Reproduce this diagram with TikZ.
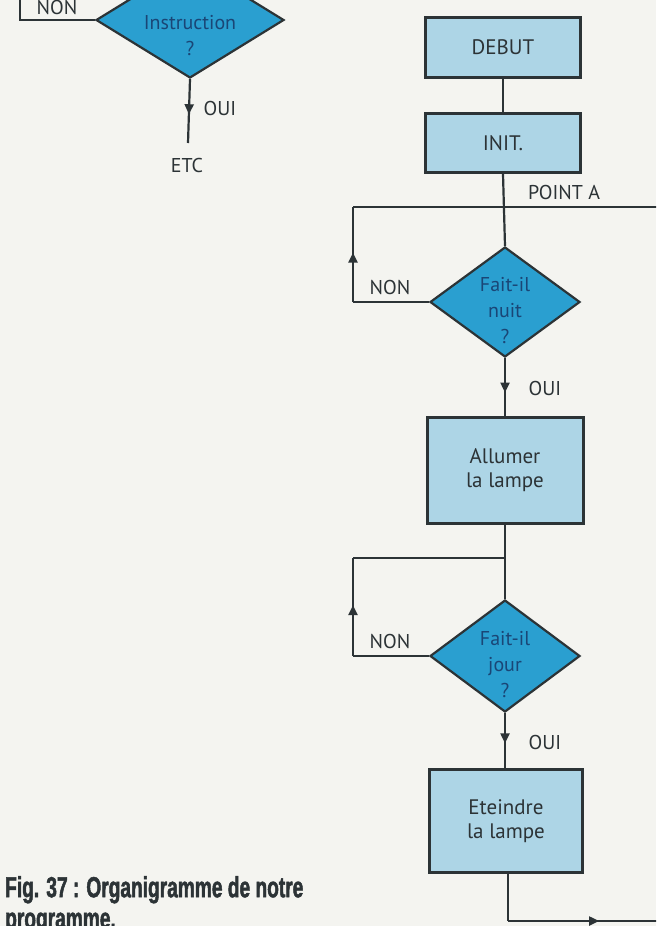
\documentclass[tikz,border=0pt]{standalone}
\usepackage{fontspec}
\usetikzlibrary{shapes.geometric,arrows.meta,decorations.markings}
\newfontfamily\diafont{PT Sans}
\newfontfamily\capfont[FakeStretch=0.66,FakeBold=1.6]{Liberation Sans}
\definecolor{paper}{HTML}{F4F4F0}
\definecolor{boxfill}{HTML}{ADD5E6}
\definecolor{diafill}{HTML}{2A9FD0}
\definecolor{diatext}{HTML}{1A4676}
\definecolor{ink}{HTML}{2C3336}
\tikzset{
  stepbox/.style={draw=ink, line width=3pt, fill=boxfill, rectangle, inner sep=0pt,
    text=ink, align=center, font=\diafont\fontsize{21}{24}\selectfont},
  decision/.style={draw=ink, line width=2.2pt, fill=diafill, diamond, inner sep=0pt},
  dtext/.style={text=diatext, align=center, font=\diafont\fontsize{20}{26}\selectfont},
  lbl/.style={text=ink, font=\diafont\fontsize{20}{24}\selectfont, inner sep=0pt},
  conn/.style={draw=ink, line width=2.2pt},
  arrowmid/.style={postaction={decorate}, decoration={markings,
    mark=at position #1 with {\arrow{Triangle[length=10pt,width=9pt]}}}},
  arrowmid/.default=0.5
}
\begin{document}
\begin{tikzpicture}[x=1pt,y=-1pt]
\useasboundingbox (0,0) rectangle (656,926);
\clip (0,0) rectangle (656,926);
\fill[paper] (0,0) rectangle (656,926);

% ---- top-left fragment ----
\node[decision, minimum width=188pt, minimum height=116pt] (dtop) at (190,20) {};
\node[dtext] at (190,36) {Instruction\\?};
\coordinate (tl1) at (20,20);
\coordinate (tl2) at (20,-10);
\draw[conn] (dtop.west) -- (tl1) -- (tl2);
\node[lbl] (non0) at (57,7) {NON};
\node[lbl] (etc) at (187,165) {ETC};
\coordinate (etctop) at (188,143);
\draw[conn, arrowmid=0.55] (dtop.south) -- (etctop);
\node[lbl] (oui0) at (220,108) {OUI};

% ---- right column ----
\node[stepbox, minimum width=155pt, minimum height=60pt] (debut) at (503,47) {DEBUT};
\node[stepbox, minimum width=155pt, minimum height=59pt] (init) at (503,143) {INIT.};
\draw[conn] (debut.south) -- (init.north);

\coordinate (pA) at (505,207);
\coordinate (rA) at (665,207);
\node[lbl] (pointa) at (564,192) {POINT A};

\node[decision, minimum width=150pt, minimum height=110pt] (d1) at (505,302) {};
\node[dtext] at (505,311) {Fait-il\\nuit\\?};
\draw[conn] (init.south) -- (d1.north);
\coordinate (c1a) at (353,302);
\coordinate (c1b) at (353,207);
\draw[conn] (d1.west) -- (c1a);
\draw[conn, arrowmid=0.52] (c1a) -- (c1b);
\draw[conn] (c1b) -- (pA) -- (rA);
\node[lbl] (non1) at (390,287) {NON};

\node[stepbox, minimum width=156pt, minimum height=106pt] (allumer) at (505,470) {Allumer\\la lampe};
\draw[conn, arrowmid=0.6] (d1.south) -- (allumer.north);
\node[lbl] (oui1) at (545,388) {OUI};

\coordinate (j2) at (505,558);
\node[decision, minimum width=150pt, minimum height=112pt] (d2) at (505,656) {};
\node[dtext] at (505,665) {Fait-il\\jour\\?};
\draw[conn] (allumer.south) -- (j2) -- (d2.north);
\coordinate (c2a) at (353,656);
\coordinate (c2b) at (353,558);
\draw[conn] (d2.west) -- (c2a);
\draw[conn, arrowmid=0.52] (c2a) -- (c2b);
\draw[conn] (c2b) -- (j2);
\node[lbl] (non2) at (390,641) {NON};

\node[stepbox, minimum width=153pt, minimum height=103pt] (eteindre) at (506,821) {Eteindre\\la lampe};
\draw[conn, arrowmid=0.55] (d2.south) -- (eteindre.north -| d2.south);
\node[lbl] (oui2) at (545,742) {OUI};

\coordinate (bl) at (508,921);
\coordinate (br) at (665,921);
\draw[conn] (eteindre.south -| bl) -- (bl);
\draw[conn, arrowmid=0.58] (bl) -- (br);

% ---- caption ----
\node[anchor=north west, inner sep=0pt, text=ink, align=left,
  font=\capfont\bfseries\fontsize{29}{31}\selectfont] (caption) at (5,876)
  {Fig. 37 : Organigramme de notre\\programme.};
\end{tikzpicture}
\end{document}
